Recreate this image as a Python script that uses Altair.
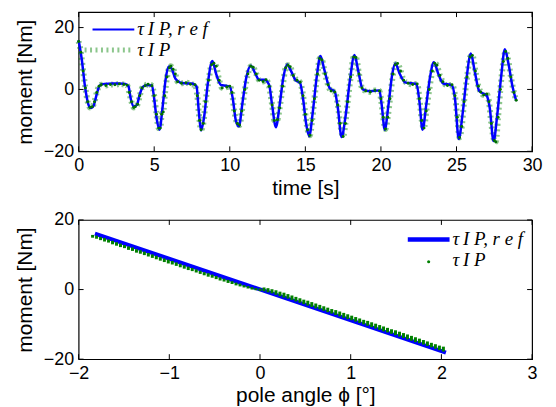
import altair as alt
import pandas as pd

# ---------------- top panel: moment over time ----------------
t_ref = [0, 0.2, 0.45, 0.7, 0.85, 1.0, 1.2, 1.4, 1.7, 2.2, 2.7, 3.1, 3.3, 3.45, 3.65, 3.85, 4.05, 4.25,
         4.5, 4.85, 5.0, 5.15, 5.35, 5.55, 5.75, 5.95, 6.15, 6.4, 6.7, 7.0, 7.5, 7.8, 7.95, 8.1, 8.3,
         8.55, 8.85, 9.1, 9.4, 9.7, 10.0, 10.2, 10.4, 10.6, 10.85, 11.1, 11.4, 11.7, 11.95, 12.3, 12.6,
         12.8, 13.05, 13.3, 13.55, 13.8, 14.05, 14.35, 14.65, 14.85, 15.05, 15.25, 15.5, 15.75, 16.0,
         16.25, 16.6, 16.95, 17.15, 17.4, 17.65, 17.95, 18.25, 18.5, 18.8, 19.3, 19.9, 20.05, 20.25,
         20.5, 20.75, 20.95, 21.25, 21.6, 22.0, 22.35, 22.55, 22.75, 23.0, 23.25, 23.5, 23.8, 24.1,
         24.7, 24.9, 25.15, 25.4, 25.65, 25.95, 26.2, 26.5, 27.0, 27.2, 27.45, 27.7, 27.95, 28.2,
         28.45, 28.7, 28.95]
v_ref = [15.9, 10, 0, -5.5, -6.0, -5.2, -1.5, 1.3, 1.8, 1.9, 1.9, 1.8, 1.0, -3.0, -5.5, -5.0, -1.5, 0.8,
         1.4, 1.3, -3, -9, -13.0, -6, 3, 7.4, 6.8, 3.5, 2.3, 2.0, 1.9, 1.0, -7, -13.3, -9,
         2, 9.2, 5, 1.5, 1.2, 1.0, -3, -10, -11.9, -4, 4, 7.7, 5, 3.1, 3.1, 1.5,
         -5, -12.2, -5, 4, 8.1, 6, 3.0, 2.1, -3, -11, -15.1, -7, 4, 10.8,
         6.5, 0.5, -0.8, -6, -15.4, -9, 3, 11.1, 6, 0, -0.6, -0.3, -5, -13.0,
         -5, 5, 8.4, 5, 2.3, 2.0, 1.8, -4, -13, -5, 4, 8.8, 5, 2.0,
         1.3, -3, -16, -8, 3, 11.6, 6, -0.5, -2.0, -6, -16.7, -8, 4, 13.0,
         8, 1, -3.7]

t_meas = [0.0, 0.15, 0.3, 0.45, 0.6, 0.75, 0.9, 1.05, 1.2, 1.35, 1.5, 1.8, 2.1, 2.4, 2.7, 3.0, 3.2, 3.35,
          3.5, 3.65, 3.75, 3.9, 4.05, 4.2, 4.4, 4.6, 4.85, 5.0, 5.15, 5.3, 5.4, 5.5, 5.6, 5.7, 5.85,
          6.0, 6.1, 6.25, 6.4, 6.55, 6.8, 7.1, 7.4, 7.7, 7.85, 8.0, 8.1, 8.25, 8.4, 8.6, 8.8, 8.95,
          9.1, 9.3, 9.5, 9.8, 10.0, 10.15, 10.3, 10.5, 10.65, 10.8, 11.0, 11.2, 11.4, 11.55, 11.75,
          11.95, 12.2, 12.4, 12.6, 12.8, 12.95, 13.15, 13.3, 13.5, 13.7, 13.85, 14.0, 14.2, 14.45,
          14.65, 14.85, 15.0, 15.15, 15.3, 15.45, 15.6, 15.8, 15.95, 16.1, 16.3, 16.5, 16.7, 16.95,
          17.15, 17.3, 17.5, 17.65, 17.8, 18.0, 18.2, 18.35, 18.55, 18.75, 19.0, 19.3, 19.6, 19.9,
          20.0, 20.15, 20.3, 20.45, 20.6, 20.8, 20.95, 21.1, 21.3, 21.5, 21.8, 22.1, 22.4, 22.55,
          22.7, 22.85, 23.0, 23.2, 23.4, 23.55, 23.7, 23.9, 24.1, 24.4, 24.7, 24.9, 25.05, 25.2,
          25.35, 25.5, 25.7, 25.9, 26.05, 26.25, 26.45, 26.6, 26.8, 27.0, 27.15, 27.3, 27.5, 27.6,
          27.75, 27.9, 28.1, 28.25, 28.4, 28.6, 28.8, 28.95]
v_meas = [15.5, 12, 6, 0.5, -4, -5.8, -5.6, -4, -1, 1.0, 1.5, 1.3, 1.6, 1.5, 1.8, 1.6, 1.4, -1,
          -4, -5.8, -5.6, -4.8, -2, 0.5, 1.2, 1.7, 1.2, -2, -8, -12.5, -12.5, -8, -7.3, -2, 4,
          7.0, 7.5, 6.5, 5, 2.5, 2.0, 2.2, 1.7, 1.5, -2, -10, -13.0, -11, -4, 3, 8, 8.5,
          7.5, 3, 0.5, 0.8, 1.0, -1, -7, -11, -11.5, -7, 0, 5, 7.5, 7.2, 5,
          3.0, 2.6, 3.1, 1.0, -5, -10, -9.8, -6, 1, 7, 7.8, 7.3, 4.5, 3.0,
          2.3, -2, -8, -13, -14.8, -10, -3, 5, 10.0, 9.5, 5, 1.5, -0.5, -0.8,
          -5, -11, -15.2, -11, -4, 4, 10.5, 10.3, 5, 0.5, -0.5, -0.8, -0.3, -0.5,
          -3, -9, -12.8, -9, -3, 5, 8.0, 8.4, 6, 3, 2.0, 1.6, 1.8, -3,
          -10, -12.5, -7, 0, 6, 8.5, 7.8, 4.5, 2.5, 1.3, 1.5, -2, -9, -15.5,
          -12, -4, 4, 10.5, 11, 6, 1, -0.8, -1.8, -1.5, -4, -11, -16.5, -17,
          -9, 0, 9, 12.3, 10, 4, -1, -3.5]

time_ticks = [0, 5, 10, 15, 20, 25, 30]
moment_ticks_top = [-20, 0, 20]

# ---------------- bottom panel: moment over pole angle ----------------
phi_ref = [-1.82, 2.05]
tau_ref = [16.1, -18.1]

phi_meas = [-1.846, -1.802, -1.758, -1.714, -1.670, -1.626, -1.582, -1.538, -1.494, -1.450, -1.406,
            -1.362, -1.319, -1.275, -1.231, -1.187, -1.143, -1.099, -1.055, -1.011, -0.967, -0.923,
            -0.879, -0.835, -0.791, -0.747, -0.703, -0.659, -0.615, -0.571, -0.527, -0.483, -0.440,
            -0.396, -0.352, -0.308, -0.264, -0.220, -0.176, -0.132, -0.088, -0.044, 0.000, 0.044,
            0.088, 0.132, 0.176, 0.220, 0.264, 0.308, 0.352, 0.396, 0.440, 0.483, 0.527, 0.571,
            0.615, 0.659, 0.703, 0.747, 0.791, 0.835, 0.879, 0.923, 0.967, 1.011, 1.055, 1.099,
            1.143, 1.187, 1.231, 1.275, 1.319, 1.362, 1.406, 1.450, 1.494, 1.538, 1.582, 1.626,
            1.670, 1.714, 1.758, 1.802, 1.846, 1.890, 1.934, 1.978, 2.022]
tau_meas_top = [15.7, 15.5, 15.1, 14.8, 14.4, 14.0, 13.6, 13.2, 12.8, 12.4, 12.1,
                11.6, 11.3, 10.9, 10.5, 10.1, 9.7, 9.3, 8.9, 8.6, 8.2, 7.8,
                7.4, 7.0, 6.6, 6.2, 5.8, 5.4, 5.0, 4.7, 4.3, 3.9, 3.5,
                3.1, 2.8, 2.4, 2.0, 1.7, 1.3, 1.0, 0.7, 0.4, 0.3, 0.6,
                0.4, 0.1, -0.2, -0.6, -0.9, -1.3, -1.7, -2.1, -2.5, -2.9, -3.2, -3.6,
                -4.0, -4.4, -4.8, -5.2, -5.6, -5.9, -6.3, -6.7, -7.1, -7.5, -7.9, -8.3,
                -8.7, -9.0, -9.4, -9.8, -10.2, -10.6, -11.0, -11.4, -11.7, -12.1, -12.5, -12.9,
                -13.3, -13.7, -14.1, -14.5, -14.9, -15.3, -15.7, -16.1, -16.4]
tau_meas_bot = [14.9, 14.6, 14.2, 13.8, 13.5, 13.0, 12.6, 12.2, 11.9, 11.4, 11.1,
                10.6, 10.3, 9.9, 9.5, 9.1, 8.7, 8.3, 7.9, 7.5, 7.2, 6.8,
                6.4, 6.0, 5.6, 5.3, 4.9, 4.5, 4.1, 3.7, 3.4, 3.0, 2.6,
                2.3, 1.9, 1.6, 1.2, 0.9, 0.6, 0.3, 0.0, -0.2, -0.4, -0.5,
                -0.8, -1.1, -1.5, -1.9, -2.3, -2.6, -3.0, -3.4, -3.8, -4.2, -4.6, -5.0,
                -5.4, -5.7, -6.1, -6.5, -6.9, -7.3, -7.7, -8.1, -8.5, -8.8, -9.2, -9.6,
                -10.0, -10.4, -10.8, -11.2, -11.6, -12.0, -12.3, -12.7, -13.1, -13.5, -13.9, -14.3,
                -14.7, -15.1, -15.4, -15.8, -16.2, -16.6, -17.0, -17.4, -17.8]

angle_ticks = [-2, -1, 0, 1, 2, 3]
moment_ticks_bot = [-20, 0, 20]

legend_ref = "\u03c4\u2009I P, r e f"
legend_meas = "\u03c4\u2009I P"

W, H = 456, 140
BLUE = "#0000ff"
GREEN = "#008000"
SANS = "Liberation Sans"
SERIF = "Liberation Serif"

one = pd.DataFrame({"k": [0]})


def inner_ticks(xvals, yvals, xenc, yenc, xfield, yfield):
    xt = pd.DataFrame({xfield: xvals})
    yt = pd.DataFrame({yfield: yvals})
    base_x = alt.Chart(xt).mark_rule(color="black", strokeWidth=1)
    base_y = alt.Chart(yt).mark_rule(color="black", strokeWidth=1)
    return [
        base_x.encode(x=xenc, y=alt.value(H), y2=alt.value(H - 5)),
        base_x.encode(x=xenc, y=alt.value(0), y2=alt.value(5)),
        base_y.encode(y=yenc, x=alt.value(0), x2=alt.value(5)),
        base_y.encode(y=yenc, x=alt.value(W), x2=alt.value(W - 5)),
    ]


def label(x, y, text, size=19):
    return alt.Chart(one).mark_text(
        text=text, font=SERIF, fontSize=size, fontStyle="italic",
        align="left", baseline="alphabetic", color="black"
    ).encode(x=alt.value(x), y=alt.value(y))


# ---- top chart ----
ref_df = pd.DataFrame({"t": t_ref, "v": v_ref})
meas_df = pd.DataFrame({"t": t_meas, "v": v_meas})

xs_top = alt.Scale(domain=[0, 30], nice=False, zero=False)
ys_top = alt.Scale(domain=[-20, 25], nice=False, zero=False)
ax_t = alt.Axis(values=time_ticks, labelFlush=False, labelOverlap=False)
ax_m = alt.Axis(values=moment_ticks_top, labelOverlap=False)

x_top = alt.X("t:Q", scale=xs_top, title="time [s]", axis=ax_t)
y_top = alt.Y("v:Q", scale=ys_top, title="moment [Nm]", axis=ax_m)

meas_line = alt.Chart(meas_df).mark_line(
    color=GREEN, opacity=0.45, strokeWidth=6, strokeDash=[2, 3.5], strokeCap="butt",
    interpolate="monotone").encode(x=x_top, y=y_top)
ref_line = alt.Chart(ref_df).mark_line(
    color=BLUE, strokeWidth=2.5, interpolate="monotone").encode(x=x_top, y=y_top)
meas_dots = alt.Chart(meas_df).mark_circle(color="#007000", size=9, opacity=1).encode(x=x_top, y=y_top)

leg_top = [
    alt.Chart(one).mark_rule(color=BLUE, strokeWidth=2).encode(
        x=alt.value(14), x2=alt.value(56), y=alt.value(17.5)),
    alt.Chart(one).mark_rule(color=GREEN, opacity=0.45, strokeWidth=5, strokeDash=[2, 3.5],
                             strokeCap="butt").encode(x=alt.value(6), x2=alt.value(52), y=alt.value(38)),
    label(59, 23, legend_ref),
    label(59, 44, legend_meas),
]

top = alt.layer(meas_line, ref_line, meas_dots,
                *inner_ticks(time_ticks, moment_ticks_top, x_top, y_top, "t", "v"),
                *leg_top).properties(width=W, height=H)

# ---- bottom chart ----
ref2_df = pd.DataFrame({"phi": phi_ref, "tau": tau_ref})
meas2_df = pd.DataFrame({"phi": phi_meas, "tau": tau_meas_top, "bot": tau_meas_bot})

xs_bot = alt.Scale(domain=[-2, 3], nice=False, zero=False)
ys_bot = alt.Scale(domain=[-20, 20], nice=False, zero=False)
x_bot = alt.X("phi:Q", scale=xs_bot, title="pole angle \u03d5 [\u00b0]",
              axis=alt.Axis(values=angle_ticks, labelFlush=False, labelOverlap=False))
y_bot = alt.Y("tau:Q", scale=ys_bot, title="moment [Nm]",
              axis=alt.Axis(values=moment_ticks_bot, labelOverlap=False))

ref2_line = alt.Chart(ref2_df).mark_line(color=BLUE, strokeWidth=4).encode(x=x_bot, y=y_bot)
meas2 = alt.Chart(meas2_df).mark_rule(color=GREEN, strokeWidth=3).encode(
    x=x_bot, y=y_bot, y2="bot:Q")

leg_bot = [
    alt.Chart(one).mark_rule(color=BLUE, strokeWidth=4.5).encode(
        x=alt.value(331), x2=alt.value(373), y=alt.value(19.7)),
    alt.Chart(one).mark_circle(color=GREEN, size=10, opacity=1).encode(
        x=alt.value(352), y=alt.value(42)),
    label(376, 25, legend_ref),
    label(376, 46, legend_meas),
]

bottom = alt.layer(ref2_line, meas2,
                   *inner_ticks(angle_ticks, moment_ticks_bot, x_bot, y_bot, "phi", "tau"),
                   *leg_bot).properties(width=W, height=H)

chart = alt.vconcat(top, bottom, spacing=69, bounds="flush").properties(
    padding={"left": 5, "top": 1, "right": 5, "bottom": 5}
).configure_axis(
    ticks=False, domain=False, grid=False,
    labelFont=SANS, labelFontSize=18, labelColor="black",
    titleFont=SANS, titleFontSize=21, titleFontWeight="normal", titleColor="black",
).configure_axisX(labelPadding=5, titlePadding=3).configure_axisY(
    labelPadding=5, titlePadding=8
).configure_view(stroke="black", strokeWidth=1.2)

chart.save("out.html", embed_options={"renderer": "svg", "actions": False})
